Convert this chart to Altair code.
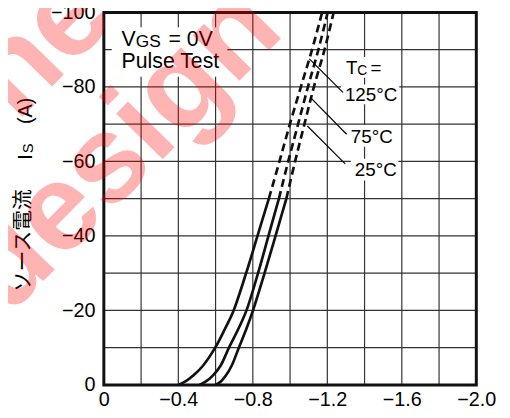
import math
import altair as alt
import pandas as pd

# ---------------- data ----------------
current = [0, -1, -2.5, -5, -10, -15, -20, -30, -40, -50, -60, -70, -80, -90, -100]
vsd_125 = [-0.400, -0.440, -0.480, -0.530, -0.598, -0.650, -0.697, -0.764, -0.825, -0.886,
           -0.943, -0.999, -1.058, -1.118, -1.172]
vsd_75 = [-0.513, -0.550, -0.585, -0.625, -0.672, -0.722, -0.766, -0.828, -0.884, -0.940,
          -0.990, -1.043, -1.096, -1.152, -1.202]
vsd_25 = [-0.601, -0.630, -0.655, -0.685, -0.725, -0.765, -0.801, -0.863, -0.922, -0.980,
          -1.027, -1.077, -1.128, -1.185, -1.234]
series_names = ["125°C", "75°C", "25°C"]
dash_from = -50  # measured part ends here, dashed beyond

x_ticks = [0, -0.4, -0.8, -1.2, -1.6, -2.0]
y_ticks = [0, -20, -40, -60, -80, -100]
x_grid = [-0.2, -0.4, -0.6, -0.8, -1.0, -1.2, -1.4, -1.6, -1.8]
y_grid = [-10, -20, -30, -40, -50, -60, -70, -80, -90]
x_domain = [0, -2.0]
y_domain = [0, -100]

rows = []
for name, vals in zip(series_names, [vsd_125, vsd_75, vsd_25]):
    for k, (i, v) in enumerate(zip(current, vals)):
        if i >= dash_from:
            rows.append({"series": name, "seg": "solid", "k": k, "V": v, "I": i})
        if i <= dash_from:
            rows.append({"series": name, "seg": "dash", "k": k, "V": v, "I": i})
curves = pd.DataFrame(rows)

W, H = 377, 377
FONT = "Liberation Sans"

xscale = alt.Scale(domain=x_domain, nice=False, zero=False)
yscale = alt.Scale(domain=y_domain, nice=False, zero=False)
xaxis = alt.Axis(values=x_ticks, grid=False, ticks=False, domain=False, labelFlush=False,
                 labelOverlap=False, labelPadding=5, labelFontSize=20, labelFont=FONT,
                 labelColor="black", title="",
                 labelExpr="datum.value == 0 ? '0' : replace(format(datum.value, '.1f'), '-', '−')")
yaxis = alt.Axis(values=y_ticks, grid=False, ticks=False, domain=False, labelFlush=False,
                 labelOverlap=False, labelPadding=9, labelFontSize=20, labelFont=FONT,
                 labelColor="black", title="",
                 labelExpr="replace(format(datum.value, 'd'), '-', '−')")


def X(f):
    return alt.X(f, type="quantitative", scale=xscale, axis=xaxis)


def Y(f):
    return alt.Y(f, type="quantitative", scale=yscale, axis=yaxis)


dummy = pd.DataFrame({"a": [0]})


def txt(s, x, y, size=20, align="left", baseline="alphabetic", angle=0, font=FONT,
        color="black", dy=0, weight="normal", opacity=1.0):
    return alt.Chart(dummy).mark_text(
        text=s, align=align, baseline=baseline, angle=angle, font=font, fontSize=size,
        color=color, dy=dy, fontWeight=weight, opacity=opacity
    ).encode(x=alt.value(x), y=alt.value(y))


def box(x1, x2, y1, y2):
    return alt.Chart(dummy).mark_rect(color="white").encode(
        x=alt.value(x1), x2=alt.value(x2), y=alt.value(y1), y2=alt.value(y2))


def leader(x1, y1, x2, y2):
    return alt.Chart(dummy).mark_rule(color="black", strokeWidth=1.2).encode(
        x=alt.value(x1), y=alt.value(y1), x2=alt.value(x2), y2=alt.value(y2))


GRID = "#333333"
vgrid = alt.Chart(pd.DataFrame({"gx": x_grid})).mark_rule(color=GRID, strokeWidth=1.2).encode(x=X("gx"))
hgrid = alt.Chart(pd.DataFrame({"gy": y_grid})).mark_rule(color=GRID, strokeWidth=1.2).encode(y=Y("gy"))

solid = alt.Chart(curves[curves.seg == "solid"]).mark_line(
    color="#111", strokeWidth=2.7, interpolate="catmull-rom").encode(
    x=X("V"), y=Y("I"), detail="series:N", order="k:Q")
dashed = alt.Chart(curves[curves.seg == "dash"]).mark_line(
    color="#111", strokeWidth=2.7, interpolate="catmull-rom", strokeDash=[8, 4.5]).encode(
    x=X("V"), y=Y("I"), detail="series:N", order="k:Q")

frame = alt.Chart(pd.DataFrame({"x1": [x_domain[0]], "x2": [x_domain[1]],
                                "y1": [y_domain[0]], "y2": [y_domain[1]]})).mark_rect(
    fill="white", fillOpacity=0, stroke="#111", strokeWidth=3).encode(
    x=X("x1"), x2="x2", y=Y("y1"), y2="y2")

layers = [vgrid, hgrid,
          box(8, 125, 15, 65),
          box(240, 287, 45, 66), box(240, 299, 73, 93),
          box(246, 295, 114, 136), box(250, 298, 148, 170),
          solid, dashed,
          leader(208, 47, 242, 81), leader(209, 86, 245.7, 123.3), leader(206, 115, 244.3, 153.3),
          # condition box
          txt("V", 18, 33.5, size=21.5), txt("GS", 32.3, 35, size=17.5), txt("= 0V", 65.5, 33.5, size=21.5),
          txt("Pulse Test", 18, 56, size=21.5),
          # Tc labels
          txt("T", 245, 62, size=19), txt("C", 256.6, 63.5, size=14), txt("=", 270, 62, size=19),
          txt("125°C", 244, 90, size=19), txt("75°C", 250, 132, size=19), txt("25°C", 254, 166, size=19),
          # y title (rotated)
          txt("ソース電流", -73, 283, size=21, angle=270, font="Noto Sans CJK JP", dy=-2),
          txt("I", -73, 149, size=20, angle=270),
          txt("S", -73, 142.5, size=15, angle=270, dy=1),
          txt("(A)", -73, 113, size=20, angle=270),
          frame]

# watermark (semi-transparent red text on top)
widths = {"d": .611, "e": .556, "s": .556, "i": .278, "g": .611, "n": .611,
          "f": .333, "o": .611, "r": .389, " ": .278, "w": .778}
WM = 125
ang = -45.6
dx_, dy_ = math.cos(math.radians(ang)), math.sin(math.radians(ang))


def word_layers(word, anchor_idx, ax, ay):
    t = [0.0]
    for a, b in zip(word[:-1], word[1:]):
        t.append(t[-1] + (widths[a] + widths[b]) / 2 * WM)
    out = []
    for ch, tt in zip(word, t):
        if ch == " ":
            continue
        d = tt - t[anchor_idx]
        out.append(txt(ch, ax + d * dx_, ay + d * dy_, size=WM, align="center",
                       angle=360 + ang, weight="bold", color="red", opacity=0.29,
                       dy=0.26 * WM))
    return out


layers += word_layers("design", 2, 6, 157)
layers += word_layers("for new", 4, -85, 62)

chart = alt.layer(*layers).properties(
    width=W, height=H, autosize="none",
    padding={"left": 97, "top": 2, "right": 26, "bottom": 28}
).configure_view(stroke=None)

chart.save("out.html", embed_options={"renderer": "svg", "actions": False})
